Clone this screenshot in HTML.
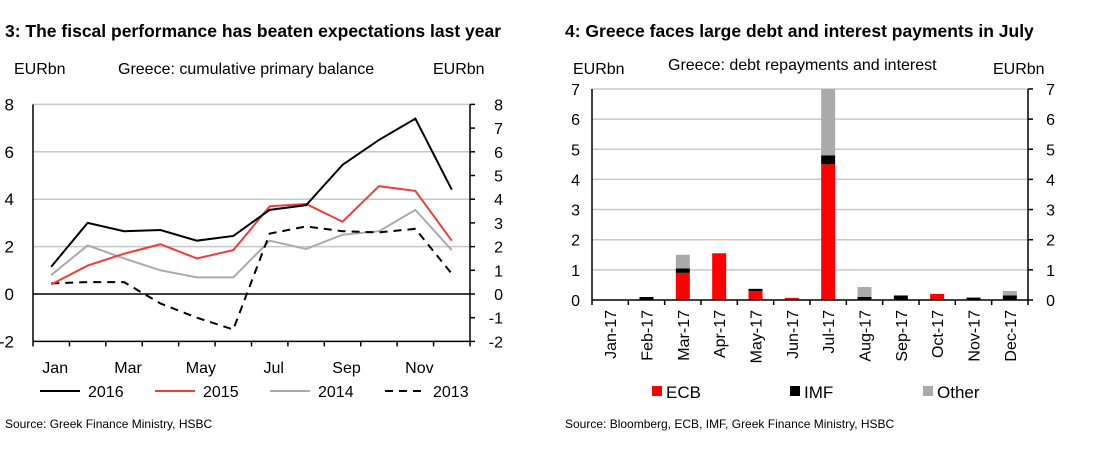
<!DOCTYPE html>
<html><head><meta charset="utf-8">
<style>
body{margin:0;background:#fff;width:1110px;height:466px;overflow:hidden;font-family:"Liberation Sans",Arial,sans-serif;}
svg text{font-family:"Liberation Sans",Arial,sans-serif;}
</style></head>
<body>
<svg id="svg" width="1110" height="466" xmlns="http://www.w3.org/2000/svg">
<text x="5" y="37" font-size="17.5" font-weight="bold">3: The fiscal performance has beaten expectations last year</text>
<text x="14" y="74" font-size="16">EURbn</text>
<text x="118" y="74" font-size="16">Greece: cumulative primary balance</text>
<text x="433" y="74" font-size="16">EURbn</text>
<text x="5" y="428" font-size="12">Source: Greek Finance Ministry, HSBC</text>
<text x="565" y="37" font-size="17.5" font-weight="bold">4: Greece faces large debt and interest payments in July</text>
<text x="573" y="74" font-size="16">EURbn</text>
<text x="668" y="70" font-size="16">Greece: debt repayments and interest</text>
<text x="993" y="74" font-size="16">EURbn</text>
<text x="565" y="428" font-size="12">Source: Bloomberg, ECB, IMF, Greek Finance Ministry, HSBC</text>
<g id="left"></g><g id="right"></g>
</svg>
<script>
const months=["Jan","Feb","Mar","Apr","May","Jun","Jul","Aug","Sep","Oct","Nov","Dec"];
const monthLabels=["Jan","","Mar","","May","","Jul","","Sep","","Nov",""];
const s2016=[1.15,3.0,2.65,2.7,2.25,2.45,3.55,3.75,5.45,6.5,7.4,4.4];
const s2015=[0.4,1.2,1.7,2.1,1.5,1.85,3.7,3.8,3.05,4.55,4.35,2.25];
const s2014=[0.8,2.05,1.5,1.0,0.7,0.7,2.25,1.9,2.5,2.65,3.55,1.85];
const s2013=[0.45,0.5,0.5,-0.4,-1.0,-1.5,2.55,2.85,2.65,2.6,2.75,0.85];
const leftTicks=[-2,0,2,4,6,8];
const rightTicks=[-2,-1,0,1,2,3,4,5,6,7,8];
const cats=["Jan-17","Feb-17","Mar-17","Apr-17","May-17","Jun-17","Jul-17","Aug-17","Sep-17","Oct-17","Nov-17","Dec-17"];
const ecb=[0,0,0.9,1.55,0.3,0.07,4.5,0,0,0.2,0,0];
const imf=[0,0.1,0.15,0,0.07,0,0.3,0.1,0.15,0,0.08,0.15];
const other=[0,0,0.45,0,0,0,2.2,0.33,0,0,0,0.15];
const barTicks=[0,1,2,3,4,5,6,7];

const NS="http://www.w3.org/2000/svg";
function mk(p,t,a){const e=document.createElementNS(NS,t);for(const k in a)e.setAttribute(k,a[k]);p.appendChild(e);return e;}
const L=document.getElementById('left');
const lx0=33,lx1=470,ly=v=>294-v*23.7;
const lxc=i=>lx0+(i+0.5)*(lx1-lx0)/12;
leftTicks.forEach(t=>{
 if(t>0){const g=mk(L,'line',{x1:lx0,x2:lx1,y1:ly(t),y2:ly(t),stroke:'#c8c8c8','stroke-width':1.5});
 
 }
 const tx=mk(L,'text',{x:lx0-19,y:ly(t)+6,'font-size':17,'text-anchor':'end'});tx.textContent=t;
 
 
});
rightTicks.forEach(t=>{
 const tk=mk(L,'line',{x1:lx1,x2:lx1+5,y1:ly(t),y2:ly(t),stroke:'#000','stroke-width':1.5});
 
 
 const tx=mk(L,'text',{x:lx1+33,y:ly(t)+6,'font-size':16,'text-anchor':'end'});tx.textContent=t;
 
 
});
let a=mk(L,'line',{x1:lx0,x2:lx0,y1:ly(8),y2:ly(-2),stroke:'#000','stroke-width':1.5});

a=mk(L,'line',{x1:lx1,x2:lx1,y1:ly(8),y2:ly(-2),stroke:'#000','stroke-width':1.5});

a=mk(L,'line',{x1:lx0,x2:lx1,y1:ly(0),y2:ly(0),stroke:'#000','stroke-width':1.5});

a=mk(L,'line',{x1:lx0,x2:lx1,y1:ly(-2),y2:ly(-2),stroke:'#000','stroke-width':1.5});

for(let i=0;i<=12;i++){const t=mk(L,'line',{x1:lx0+i*(lx1-lx0)/12,x2:lx0+i*(lx1-lx0)/12,y1:ly(-2),y2:ly(-2)+5,stroke:'#000','stroke-width':1.5});
 }
monthLabels.forEach((m,i)=>{if(!m)return;const t=mk(L,'text',{x:lxc(i)+4,y:373,'font-size':16,'text-anchor':'middle'});t.textContent=m;
 });
function line(d,c,dash,name){const p=mk(L,'polyline',{points:d.map((v,i)=>lxc(i)+','+ly(v)).join(' '),fill:'none',stroke:c,'stroke-width':2,'stroke-dasharray':dash||'none'});
 }
line(s2014,'#aaaaaa','', 'line-2014');
line(s2013,'#000','8,6','line-2013');
line(s2015,'#f03c3c','','line-2015');
line(s2016,'#000','','line-2016');
[["2016",'#000','',40],["2015",'#f03c3c','',155],["2014",'#aaaaaa','',270],["2013",'#000','8,6',385]].forEach(e=>{
 const g=mk(L,'g',{});
 mk(g,'line',{x1:e[3],x2:e[3]+40,y1:391,y2:391,stroke:e[1],'stroke-width':2,'stroke-dasharray':e[2]||'none'});
 const t=mk(g,'text',{x:e[3]+48,y:397,'font-size':16});t.textContent=e[0];
});
const R=document.getElementById('right');
const rx0=592,rx1=1028,ry=v=>300-v*30.15,cw=(rx1-rx0)/12;
barTicks.forEach(t=>{
 if(t>0){const g=mk(R,'line',{x1:rx0,x2:rx1,y1:ry(t),y2:ry(t),stroke:'#c8c8c8','stroke-width':1.5});
 }
 let tx=mk(R,'text',{x:rx0-12,y:ry(t)+6,'font-size':16,'text-anchor':'end'});tx.textContent=t;
 
 tx=mk(R,'text',{x:rx1+27,y:ry(t)+6,'font-size':16,'text-anchor':'end'});tx.textContent=t;
 
 const tk=mk(R,'line',{x1:rx1,x2:rx1+5,y1:ry(t),y2:ry(t),stroke:'#000','stroke-width':1.5});
 
});
cats.forEach((c,i)=>{
 const xc=rx0+(i+0.5)*cw,bw=14;let base=0;
 [[ecb,'#ff0000','ecb'],[imf,'#000','imf'],[other,'#aaaaaa','other']].forEach(s=>{
  const v=s[0][i];if(v<=0)return;
  const r=mk(R,'rect',{x:xc-bw/2,y:ry(base+v),width:bw,height:ry(base)-ry(base+v),fill:s[1]});
  
  
  base+=v;
 });
 const t=mk(R,'text',{x:0,y:0,'font-size':16,'text-anchor':'end',transform:`translate(${xc+6},${310}) rotate(-90)`});t.textContent=c;
 
});
for(let i=0;i<=12;i++){const t=mk(R,'line',{x1:rx0+i*cw,x2:rx0+i*cw,y1:300,y2:305,stroke:'#000','stroke-width':1.5});
 }
a=mk(R,'line',{x1:rx0,x2:rx0,y1:ry(7),y2:300,stroke:'#000','stroke-width':1.5});

a=mk(R,'line',{x1:rx1,x2:rx1,y1:ry(7),y2:300,stroke:'#000','stroke-width':1.5});

a=mk(R,'line',{x1:rx0,x2:rx1,y1:300,y2:300,stroke:'#000','stroke-width':1.5});

[["ECB",'#ff0000',652],["IMF",'#000',790],["Other",'#aaaaaa',923]].forEach(e=>{
 const g=mk(R,'g',{});
 mk(g,'rect',{x:e[2],y:386,width:10,height:10,fill:e[1]});
 const t=mk(g,'text',{x:e[2]+14,y:398,'font-size':17});t.textContent=e[0];
});
</script>
</body></html>
